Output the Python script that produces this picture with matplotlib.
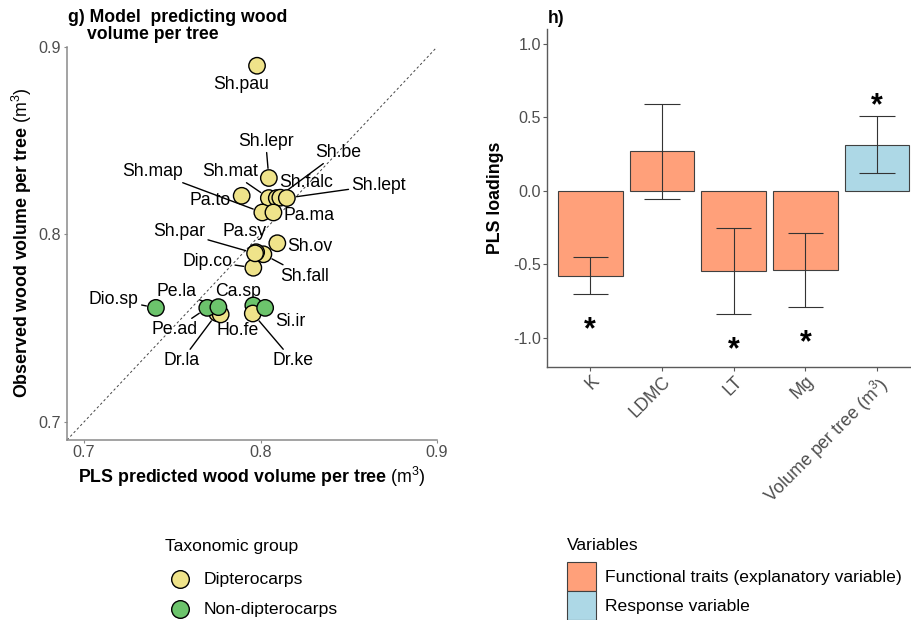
import matplotlib
matplotlib.use("Agg")
import matplotlib.pyplot as plt
from matplotlib.patches import Rectangle
from matplotlib.lines import Line2D

plt.rcParams['font.family'] = ['Liberation Sans', 'DejaVu Sans']
plt.rcParams['mathtext.fontset'] = 'custom'
plt.rcParams['mathtext.rm'] = 'Liberation Sans'
plt.rcParams['mathtext.it'] = 'Liberation Sans:italic'
plt.rcParams['mathtext.bf'] = 'Liberation Sans:bold'
plt.rcParams['axes.unicode_minus'] = False

# ---------------- data: panel g (species means) ----------------
species = ["Sh.pau", "Sh.lepr", "Pa.to", "Sh.mat", "Sh.be", "Sh.falc", "Sh.lept",
           "Sh.map", "Pa.ma", "Sh.ov", "Sh.fall", "Dip.co", "Pa.sy", "Sh.par",
           "Dio.sp", "Dr.la", "Ho.fe", "Pe.ad", "Pe.la", "Ca.sp", "Dr.ke", "Si.ir"]
predicted = [0.798, 0.8047, 0.7893, 0.8047, 0.8092, 0.8112, 0.8149,
             0.8010, 0.8073, 0.8095, 0.8016, 0.7959, 0.7975, 0.7969,
             0.7407, 0.7754, 0.7774, 0.7698, 0.7761, 0.7959, 0.7956, 0.8026]
observed = [0.890, 0.8301, 0.8206, 0.8194, 0.8194, 0.8196, 0.8194,
            0.8117, 0.8117, 0.7953, 0.7894, 0.7822, 0.7905, 0.7899,
            0.7608, 0.7580, 0.7573, 0.7608, 0.7612, 0.7621, 0.7578, 0.7608]
group = ["Dipterocarps"] * 14 + ["Non-dipterocarps", "Dipterocarps", "Dipterocarps",
                                  "Non-dipterocarps", "Non-dipterocarps", "Non-dipterocarps",
                                  "Dipterocarps", "Non-dipterocarps"]

# ---------------- data: panel h (PLS loadings) ----------------
variables = ["K", "LDMC", "LT", "Mg", "Volume per tree (m$^{3}$)"]
var_type = ["Functional traits (explanatory variable)"] * 4 + ["Response variable"]
loadings = [-0.579, 0.268, -0.545, -0.540, 0.313]
ci_low = [-0.704, -0.059, -0.838, -0.790, 0.118]
ci_high = [-0.450, 0.590, -0.254, -0.286, 0.511]
significant = [True, False, True, True, True]

group_colors = {"Dipterocarps": "#EFE38A", "Non-dipterocarps": "#6CC46C"}
type_colors = {"Functional traits (explanatory variable)": "#FFA07A",
               "Response variable": "#ADD8E6"}

# repelled label placement (data coordinates) and which labels get a leader line
label_xy = {
    "Sh.pau": (0.7888, 0.8800), "Sh.lepr": (0.8029, 0.8497), "Sh.be": (0.8442, 0.8438),
    "Sh.map": (0.7388, 0.8336), "Sh.mat": (0.7827, 0.8336), "Sh.falc": (0.8258, 0.8277),
    "Sh.lept": (0.8669, 0.8263), "Pa.to": (0.7717, 0.8183), "Pa.ma": (0.8277, 0.8099),
    "Sh.par": (0.7539, 0.8015), "Pa.sy": (0.7912, 0.8015), "Sh.ov": (0.8277, 0.7933),
    "Dip.co": (0.7698, 0.7858), "Sh.fall": (0.8247, 0.7778), "Dio.sp": (0.7169, 0.7653),
    "Pe.la": (0.7524, 0.7698), "Ca.sp": (0.7874, 0.7698), "Pe.ad": (0.7515, 0.7492),
    "Ho.fe": (0.7868, 0.7487), "Si.ir": (0.8171, 0.7533), "Dr.la": (0.7553, 0.7327),
    "Dr.ke": (0.8183, 0.7327),
}
leader = {"Sh.lepr", "Sh.be", "Sh.map", "Sh.mat", "Sh.lept", "Sh.par", "Dip.co",
          "Sh.fall", "Dio.sp", "Pe.la", "Pe.ad", "Dr.la", "Dr.ke"}

W, H, DPI = 911, 620, 100
fig = plt.figure(figsize=(W / DPI, H / DPI), dpi=DPI)


def fx(px):
    return px / W


def fy(py):
    return 1 - py / H


TICK_GREY = "#4D4D4D"

# ================= panel g =================
ax1 = fig.add_axes([fx(67), fy(440), (437 - 67) / W, (440 - 47) / H])
lo_lim, hi_lim = 0.6903, 0.9
ax1.set_xlim(lo_lim, hi_lim)
ax1.set_ylim(lo_lim, hi_lim)
ax1.plot([lo_lim, hi_lim], [lo_lim, hi_lim], ls=(0, (2.5, 2.5)), lw=0.7,
         color="#444444", zorder=1)

for name, xv, yv in zip(species, predicted, observed):
    if name in leader:
        ax1.annotate(name, xy=(xv, yv), xytext=label_xy[name], fontsize=12.7,
                     ha="center", va="center", color="black", zorder=2,
                     arrowprops=dict(arrowstyle="-", color="black", lw=1.0,
                                     shrinkA=0, shrinkB=7))
    else:
        ax1.text(*label_xy[name], name, fontsize=12.7, ha="center", va="center",
                 color="black", zorder=2)

ax1.scatter(predicted, observed, s=140, c=[group_colors[g] for g in group],
            edgecolors="black", linewidths=1.0, zorder=3)

ax1.set_xticks([0.7, 0.8, 0.9])
ax1.set_yticks([0.7, 0.8, 0.9])
ax1.set_xticklabels(["0.7", "0.8", "0.9"])
ax1.set_yticklabels(["0.7", "0.8", "0.9"])
for side in ("top", "right"):
    ax1.spines[side].set_visible(False)
for side in ("left", "bottom"):
    ax1.spines[side].set_color("#8A8A8A")
    ax1.spines[side].set_linewidth(1.1)
ax1.tick_params(axis="both", length=2, width=0.8, color="#8A8A8A",
                labelsize=11.6, labelcolor=TICK_GREY)
ax1.tick_params(axis="y", pad=2.2)
ax1.tick_params(axis="x", pad=1.8)

fig.text(fx(252), fy(477), r"PLS predicted wood volume per tree $(\mathrm{m}^{3})$",
         fontsize=12.8, fontweight="bold", ha="center", va="center")
fig.text(fx(22), fy(243), r"Observed wood volume per tree $(\mathrm{m}^{3})$",
         fontsize=12.8, fontweight="bold", ha="center", va="center", rotation=90)
fig.text(fx(68), fy(21.7), "g) Model  predicting wood", fontsize=12.7,
         fontweight="bold", ha="left", va="baseline")
fig.text(fx(87), fy(39.3), "volume per tree", fontsize=12.7,
         fontweight="bold", ha="left", va="baseline")

# ================= panel h =================
ax2 = fig.add_axes([fx(547.3), fy(367.3), 372.7 / W, 338.3 / H])
ax2.set_xlim(0.4, 5.6)
ax2.set_ylim(-1.2, 1.1)
pos = list(range(1, len(variables) + 1))
ax2.bar(pos, loadings, width=0.9, color=[type_colors[t] for t in var_type],
        edgecolor="#404040", linewidth=0.8, zorder=2)
ax2.vlines(pos, ci_low, ci_high, color="#333333", lw=0.8, zorder=3)
ax2.hlines(ci_low, [p - 0.245 for p in pos], [p + 0.245 for p in pos],
           color="#333333", lw=0.8, zorder=3)
ax2.hlines(ci_high, [p - 0.245 for p in pos], [p + 0.245 for p in pos],
           color="#333333", lw=0.8, zorder=3)

star_fs = 22
for p, val, lo, hi, sig in zip(pos, loadings, ci_low, ci_high, significant):
    if not sig:
        continue
    ystar = hi + 0.10 if val > 0 else lo - 0.207
    ax2.annotate("*", xy=(p, ystar), xytext=(0, -0.45 * star_fs),
                 textcoords="offset points", ha="center", va="baseline",
                 fontsize=star_fs, fontweight="bold", color="black")

ax2.set_yticks([-1.0, -0.5, 0.0, 0.5, 1.0])
ax2.set_yticklabels(["-1.0", "-0.5", "0.0", "0.5", "1.0"])
ax2.set_xticks(pos)
ax2.set_xticklabels(variables, rotation=45, ha="right", va="top",
                    rotation_mode="anchor")
for side in ("top", "right"):
    ax2.spines[side].set_visible(False)
for side in ("left", "bottom"):
    ax2.spines[side].set_color("#5A5A5A")
    ax2.spines[side].set_linewidth(1.0)
ax2.tick_params(axis="both", length=3, width=0.8, color="#5A5A5A",
                labelsize=11.6, labelcolor=TICK_GREY)
ax2.tick_params(axis="y", pad=1.4)
ax2.tick_params(axis="x", pad=1.0, labelsize=12.8)

fig.text(fx(495), fy(198), "PLS loadings", fontsize=12.8, fontweight="bold",
         ha="center", va="center", rotation=90)
fig.text(fx(548), fy(22.7), "h)", fontsize=12.7, fontweight="bold",
         ha="left", va="baseline")

# ================= legends =================
fig.text(fx(165), fy(546.7), "Taxonomic group", fontsize=12.6, ha="left", va="center")
for i, g in enumerate(["Dipterocarps", "Non-dipterocarps"]):
    yy = 579.3 + 30 * i
    fig.add_artist(Line2D([fx(180)], [fy(yy)], marker="o", markersize=12.7,
                          markerfacecolor=group_colors[g], markeredgecolor="black",
                          markeredgewidth=1.0, linestyle="none",
                          transform=fig.transFigure))
    fig.text(fx(204), fy(yy), g, fontsize=12.6, ha="left", va="center")

fig.text(fx(566.7), fy(545), "Variables", fontsize=12.6, ha="left", va="center")
for i, t in enumerate(["Functional traits (explanatory variable)", "Response variable"]):
    top = 562.3 + 29 * i
    fig.add_artist(Rectangle((fx(566.7), fy(top + 29)), 29 / W, 29 / H,
                             facecolor=type_colors[t], edgecolor="#404040",
                             linewidth=0.8, transform=fig.transFigure))
    fig.text(fx(605), fy(top + 15.5), t, fontsize=12.6, ha="left", va="center")

fig.savefig("out.png", dpi=DPI)
